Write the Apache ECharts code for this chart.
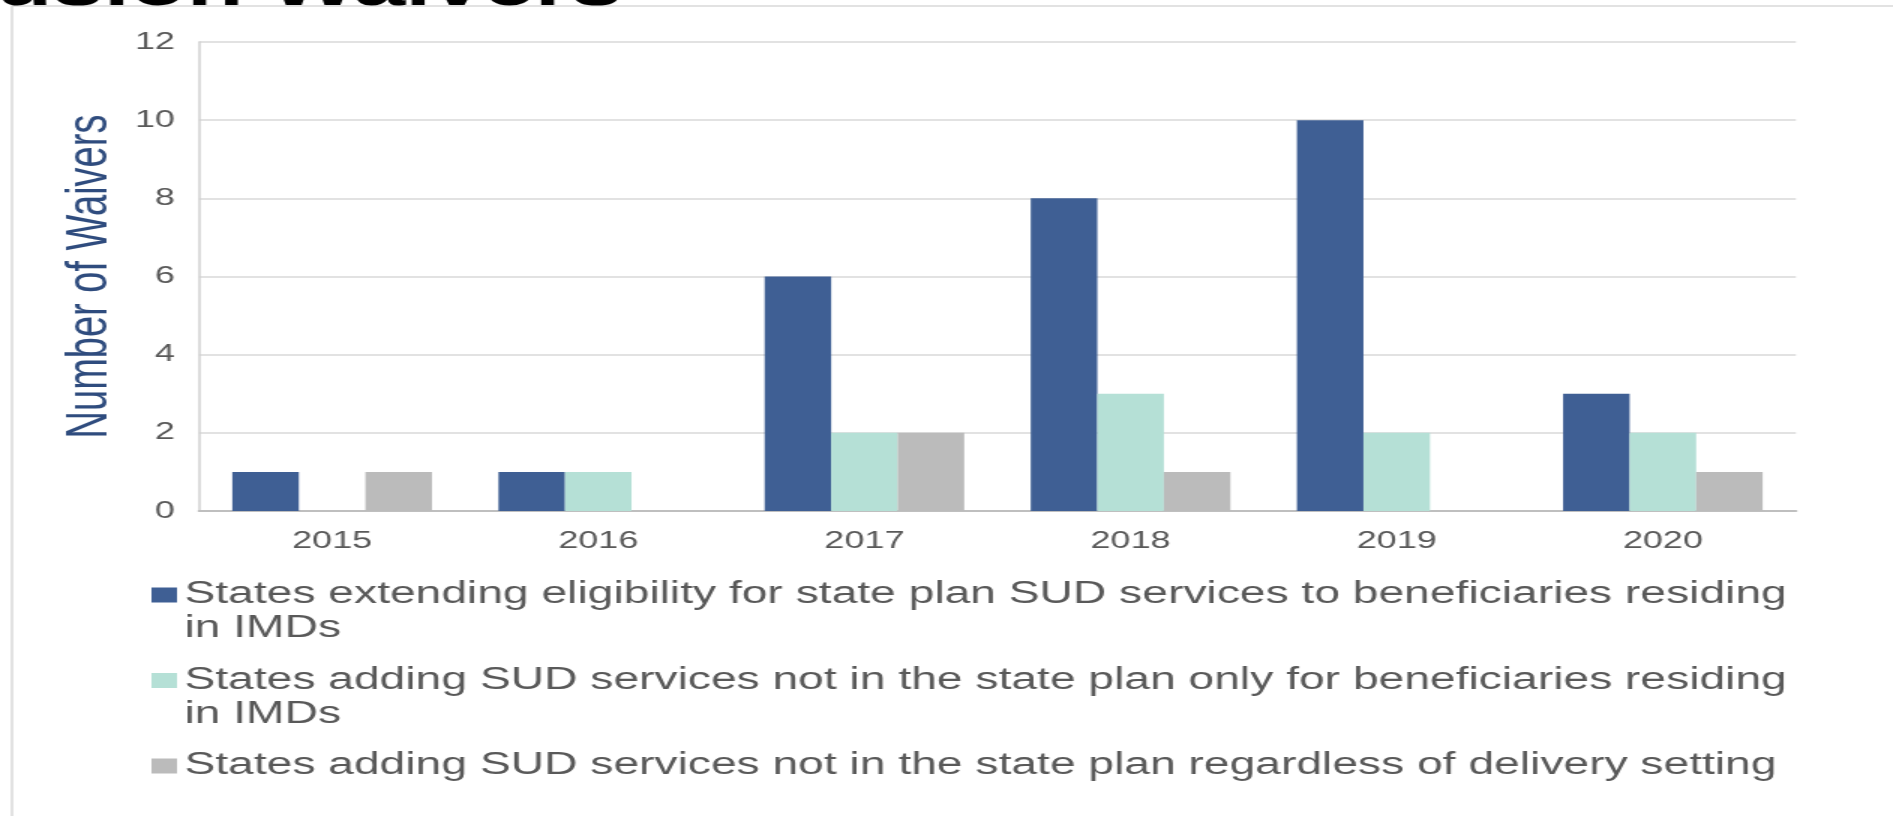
<!DOCTYPE html>
<html>
<head>
<meta charset="utf-8">
<script src="https://cdn.jsdelivr.net/npm/echarts@6/dist/echarts.min.js"></script>
<style>
  html, body { margin: 0; padding: 0; background: #ffffff; overflow: hidden; }
  #wrap { width: 1893px; height: 816px; overflow: hidden; position: relative; }
  #chart { width: 1262px; height: 816px; transform: scaleX(1.5); transform-origin: 0 0; }
</style>
</head>
<body>
<div id="wrap"><div id="chart"></div></div>
<script>
const categories = ['2015', '2016', '2017', '2018', '2019', '2020'];
const seriesNames = [
  'States extending eligibility for state plan SUD services to beneficiaries residing in IMDs',
  'States adding SUD services not in the state plan only for beneficiaries residing in IMDs',
  'States adding SUD services not in the state plan regardless of delivery setting'
];
// leading blank line keeps the first text line level with the legend marker
const legendLines = [
  ' \nStates extending eligibility for state plan SUD services to beneficiaries residing\nin IMDs',
  ' \nStates adding SUD services not in the state plan only for beneficiaries residing\nin IMDs',
  ' \nStates adding SUD services not in the state plan regardless of delivery setting\n '
];
const eligibilityInImd = [1, 1, 6, 8, 10, 3];
const addingInImdOnly = [0, 1, 2, 3, 2, 2];
const addingAnySetting = [1, 0, 2, 1, 0, 1];
const yMin = 0, yMax = 12, yInterval = 2;
const titleFragment = 'usion Waivers';
const yAxisTitle = 'Number of Waivers';

const colors = ['#3F5F94', '#B5E0D6', '#BBBBBB'];
const FONT = '"Liberation Sans", Arial, sans-serif';
const LEGEND_LH = 34;

const chart = echarts.init(document.getElementById('chart'));
chart.setOption({
  animation: false,
  backgroundColor: '#ffffff',
  color: colors,
  graphic: [
    {
      type: 'rect', silent: true, z: 0,
      shape: { x: 8, y: 6, width: 1400, height: 900 },
      style: { fill: 'none', stroke: '#D9D9D9', lineWidth: 1.5 }
    },
    {
      type: 'text', silent: true, x: -3, y: -12, z: 10,
      style: {
        text: titleFragment, fill: '#000000',
        font: 'bold 62px ' + FONT,
        align: 'left', verticalAlign: 'middle'
      }
    }
  ],
  grid: { left: 132.7, right: 64.7, top: 42, bottom: 305, containLabel: false },
  xAxis: {
    type: 'category',
    data: categories,
    axisLine: { show: true, lineStyle: { color: '#BFBFBF', width: 2 } },
    axisTick: { show: false },
    axisLabel: { color: '#595959', fontSize: 24, fontFamily: FONT, margin: 18 },
    splitLine: { show: false }
  },
  yAxis: {
    type: 'value',
    min: yMin, max: yMax, interval: yInterval,
    name: yAxisTitle,
    nameLocation: 'middle',
    nameGap: 45,
    nameTextStyle: { color: '#2F4C7E', fontSize: 38, fontFamily: FONT },
    axisLine: { show: true, lineStyle: { color: '#D0D0D0', width: 1.5 } },
    axisTick: { show: false },
    axisLabel: { color: '#595959', fontSize: 24, fontFamily: FONT, margin: 16 },
    splitLine: { show: true, lineStyle: { color: '#D9D9D9', width: 1.5 } }
  },
  legend: {
    orient: 'vertical',
    left: 101,
    top: 595 - 1.5 * LEGEND_LH,
    height: 400,
    padding: 0,
    itemGap: 85.5 - 3 * LEGEND_LH,
    itemWidth: 17,
    itemHeight: 15,
    icon: 'rect',
    data: seriesNames,
    formatter: function (name) { return legendLines[seriesNames.indexOf(name)]; },
    textStyle: { color: '#595959', fontSize: 30.8, fontFamily: FONT, lineHeight: LEGEND_LH }
  },
  series: [
    { name: seriesNames[0], type: 'bar', data: eligibilityInImd, barGap: '0%', barCategoryGap: '25%' },
    { name: seriesNames[1], type: 'bar', data: addingInImdOnly, barGap: '0%', barCategoryGap: '25%' },
    { name: seriesNames[2], type: 'bar', data: addingAnySetting, barGap: '0%', barCategoryGap: '25%' }
  ]
});
</script>
</body>
</html>
